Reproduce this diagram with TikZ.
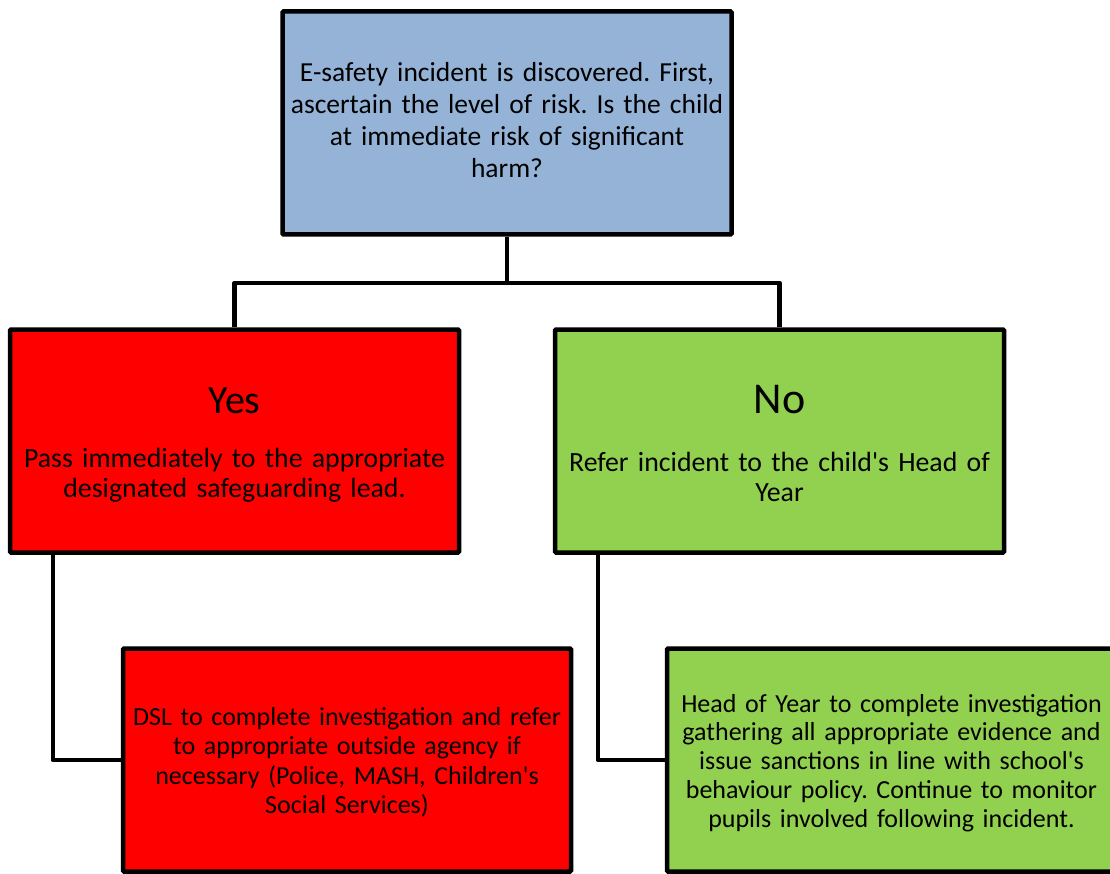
\documentclass[tikz,border=0pt]{standalone}
\usepackage{fontspec}
\setmainfont{Carlito}
\definecolor{topblue}{HTML}{95B3D7}
\definecolor{yesred}{HTML}{FF0000}
\definecolor{nogreen}{HTML}{92D050}
\newcommand{\topstrut}[1]{\rule{0pt}{#1}}
\newcommand{\botstrut}[1]{\rule[-#1]{0pt}{#1}}
\newcommand{\apos}{\textquotesingle}
\tikzset{
  box/.style={draw=black, line width=4.5pt, rectangle, minimum width=449pt, minimum height=223pt, inner sep=0pt, align=center, text width=445pt, rounded corners=1pt, execute at begin node={\frenchspacing\hyphenpenalty=10000}},
  conn/.style={draw=black, line width=4.5pt, line join=round},
  bodytext/.style={font=\fontsize{27.8}{30}\selectfont},
}
\begin{document}
\begin{tikzpicture}[x=1pt,y=-1pt]
\useasboundingbox (0,0) rectangle (1110,874);
\clip (0,0) rectangle (1110,874);
\node[box, fill=topblue, font=\fontsize{27.5}{31.7}\selectfont] (top) at (507,123) {\topstrut{20pt}E-safety incident is discovered. First,\\ascertain the level of risk. Is the child\\at immediate risk of significant\\harm?\botstrut{7pt}};
\node[box, fill=yesred, bodytext] (yes) at (234.5,441) {\fontsize{40}{48}\selectfont\topstrut{34pt}Yes\par\vspace{24pt}\fontsize{27.8}{30}\selectfont Pass immediately to the appropriate\\designated safeguarding lead.\botstrut{6pt}};
\node[box, fill=nogreen, bodytext] (no) at (779.5,441) {\fontsize{44}{52}\selectfont\topstrut{38pt}No\par\vspace{28pt}\fontsize{27.8}{30}\selectfont Refer incident to the child\apos s Head of\\Year\botstrut{6pt}};
\node[box, fill=yesred, font=\fontsize{26}{29.5}\selectfont, minimum width=448pt] (yesb) at (347,760) {\topstrut{24.5pt}DSL to complete investigation and refer\\to appropriate outside agency if\\necessary (Police, MASH, Children\apos s\\Social Services)\botstrut{6pt}};
\node[box, fill=nogreen, font=\fontsize{26}{28.8}\selectfont] (nob) at (891.5,760) {\topstrut{25.2pt}Head of Year to complete investigation\\gathering all appropriate evidence and\\issue sanctions in line with school\apos s\\behaviour policy. Continue to monitor\\pupils involved following incident.\botstrut{6pt}};
\coordinate (split) at (507,283);
\draw[conn] (top.south) -- (split);
\draw[conn] (yes.north) |- (split) -| (no.north);
\draw[conn] ([xshift=45pt]yes.south west) |- (yesb.west);
\draw[conn] ([xshift=45pt]no.south west) |- (nob.west);
\end{tikzpicture}
\end{document}
